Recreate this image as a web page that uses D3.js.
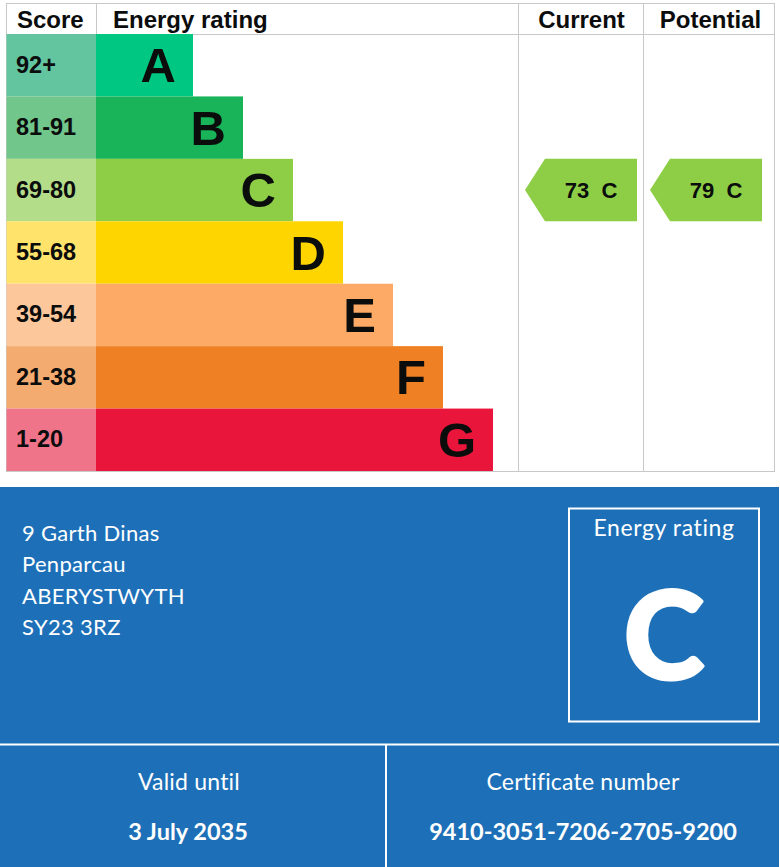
<!DOCTYPE html>
<html><head><meta charset="utf-8">
<script src="https://cdn.jsdelivr.net/npm/d3@7"></script>
<style>html,body{margin:0;padding:0;background:#fff;}</style>
</head><body>
<script>
const bands = ["A","B","C","D","E","F","G"];
const scoreLabels = ["92+","81-91","69-80","55-68","39-54","21-38","1-20"];
const barRanks = [1,2,3,4,5,6,7];
const barColors = ["#00c781","#19b459","#8dce46","#ffd500","#fcaa65","#ef8023","#e9153b"];
const scoreColors = ["#62c5a0","#70c68b","#b3dd88","#ffe36b","#fdc79c","#f4ab6f","#f07489"];
const columnHeaders = ["Score","Energy rating","Current","Potential"];
const currentValue = 73, currentBand = "C";
const potentialValue = 79, potentialBand = "C";
const addressLines = ["9 Garth Dinas","Penparcau","ABERYSTWYTH","SY23 3RZ"];
const overallRating = "C";
const validUntil = "3 July 2035";
const certificateNumber = "9410-3051-7206-2705-9200";

const W = 780, H = 867;
const svg = d3.select("body").append("svg").attr("width", W).attr("height", H);

const arial = "Arial, 'Liberation Sans', sans-serif";
const gds = "Lato, 'Open Sans', sans-serif";
const grid = "#c8c8c8";

// table geometry
const tLeft = 6, scoreRight = 96, curX = 518, potX = 643, tRight = 774;
const tTop = 3, headerBottom = 34, tBottom = 471;

const y = d3.scaleBand().domain(bands).range([headerBottom, tBottom]).padding(0);
const xBar = d3.scaleLinear().domain([1,7]).range([193,493]);

// grid lines
svg.append("rect").attr("x", tLeft+0.5).attr("y", tTop+0.5).attr("width", tRight-tLeft).attr("height", tBottom-tTop)
  .attr("fill","none").attr("stroke",grid);
svg.append("line").attr("x1",tLeft).attr("x2",tRight).attr("y1",headerBottom+0.5).attr("y2",headerBottom+0.5).attr("stroke",grid);
[scoreRight, curX, potX].forEach((x,i)=>{
  svg.append("line").attr("x1",x+0.5).attr("x2",x+0.5).attr("y1",tTop).attr("y2", i===0?headerBottom:tBottom).attr("stroke",grid);
});

// headers
const hdr = svg.append("g").attr("font-family",arial).attr("font-weight","bold").attr("font-size",24).attr("fill","#0b0c0c");
hdr.append("text").attr("x",17).attr("y",28).text(columnHeaders[0]);
hdr.append("text").attr("x",113).attr("y",28).text(columnHeaders[1]);
hdr.append("text").attr("x",(curX+potX)/2+1).attr("y",28).attr("text-anchor","middle").text(columnHeaders[2]);
hdr.append("text").attr("x",(potX+tRight)/2+2).attr("y",28).attr("text-anchor","middle").text(columnHeaders[3]);

// rows
const rows = svg.append("g").selectAll("g").data(bands).join("g");
rows.append("rect").attr("x",tLeft+0.5).attr("y",d=>y(d)).attr("width",scoreRight-tLeft-0.5).attr("height",y.bandwidth())
  .attr("fill",(d,i)=>scoreColors[i]);
rows.append("rect").attr("x",scoreRight).attr("y",d=>y(d)).attr("width",(d,i)=>xBar(barRanks[i])-scoreRight).attr("height",y.bandwidth())
  .attr("fill",(d,i)=>barColors[i]);
rows.append("text").attr("x",16).attr("y",d=>y(d)+y.bandwidth()/2+7.5)
  .attr("font-family",arial).attr("font-weight","bold").attr("font-size",23.5).attr("fill","#0b0c0c")
  .text((d,i)=>scoreLabels[i]);
rows.append("text").attr("x",(d,i)=>xBar(barRanks[i])-17).attr("y",d=>y(d)+y.bandwidth()/2+17)
  .attr("text-anchor","end").attr("font-family",arial).attr("font-weight","bold").attr("font-size",49).attr("fill","#0b0c0c")
  .text(d=>d);

// arrows
function arrow(colX, value, band){
  const i = bands.indexOf(band);
  const y0 = y(band), h = y.bandwidth();
  const tip = colX+7, notch = colX+27, r = colX+119;
  svg.append("path").attr("d",`M${tip},${y0+h/2}L${notch},${y0}L${r},${y0}L${r},${y0+h}L${notch},${y0+h}Z`)
    .attr("fill",barColors[i]);
  svg.append("text").attr("x",(notch+r)/2).attr("y",y0+h/2+8).attr("text-anchor","middle")
    .attr("font-family",arial).attr("font-weight","bold").attr("font-size",22).attr("fill","#0b0c0c")
    .style("white-space","pre").text(value+"  "+band);
}
arrow(curX, currentValue, currentBand);
arrow(potX, potentialValue, potentialBand);

// blue panel
const blue = "#1d70b8";
svg.append("rect").attr("x",0).attr("y",487).attr("width",779).attr("height",H-487).attr("fill",blue);
const addr = svg.append("g").attr("font-family",gds).attr("font-size",22).attr("letter-spacing",0.3).attr("fill","#fff");
addr.selectAll("text").data(addressLines).join("text").attr("x",22).attr("y",(d,i)=>541+i*31.3).text(d=>d);

svg.append("rect").attr("x",569).attr("y",508.5).attr("width",190).attr("height",213).attr("fill","none").attr("stroke","#fff").attr("stroke-width",2);
svg.append("text").attr("x",664).attr("y",536).attr("text-anchor","middle").attr("font-family",gds).attr("font-size",23).attr("letter-spacing",0.6).attr("fill","#fff").text("Energy rating");
svg.append("text").attr("x",664).attr("y",679).attr("text-anchor","middle").attr("font-family",gds).attr("font-weight",900).attr("font-size",122)
  .attr("fill","#fff").attr("stroke","#fff").attr("stroke-width",3).attr("stroke-linejoin","round").text(overallRating);

svg.append("line").attr("x1",0).attr("x2",779).attr("y1",744.5).attr("y2",744.5).attr("stroke","#fff").attr("stroke-width",2);
svg.append("line").attr("x1",386).attr("x2",386).attr("y1",745).attr("y2",H).attr("stroke","#fff").attr("stroke-width",2);

const ft = svg.append("g").attr("font-family",gds).attr("fill","#fff").attr("text-anchor","middle");
ft.append("text").attr("x",189).attr("y",790).attr("font-size",23).attr("letter-spacing",0.2).text("Valid until");
ft.append("text").attr("x",188).attr("y",840).attr("font-size",23.5).attr("font-weight","bold").text(validUntil);
ft.append("text").attr("x",583).attr("y",790).attr("font-size",23).attr("letter-spacing",0.2).text("Certificate number");
ft.append("text").attr("x",583).attr("y",840).attr("font-size",23.5).attr("font-weight","bold").text(certificateNumber);
</script>
</body></html>
